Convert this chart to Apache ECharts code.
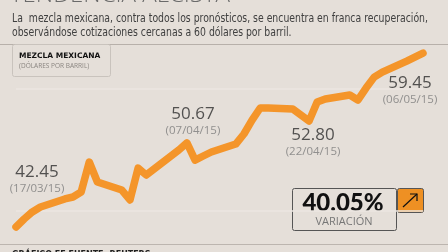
<!DOCTYPE html>
<html><head><meta charset="utf-8">
<script src="https://cdn.jsdelivr.net/npm/echarts@6/dist/echarts.min.js"></script>
<style>html,body{margin:0;padding:0;background:#e5dfd9}#c{width:448px;height:252px}</style>
</head><body><div id="c"></div>
<script>
// ---- data ----
var dates = ['2015-03-17','2015-03-18','2015-03-19','2015-03-20','2015-03-23','2015-03-24','2015-03-25','2015-03-26','2015-03-27','2015-03-30','2015-03-31','2015-04-01','2015-04-02','2015-04-06','2015-04-07','2015-04-08','2015-04-09','2015-04-10','2015-04-13','2015-04-14','2015-04-15','2015-04-16','2015-04-17','2015-04-20','2015-04-21','2015-04-22','2015-04-23','2015-04-24','2015-04-27','2015-04-28','2015-04-29','2015-04-30','2015-05-01','2015-05-04','2015-05-05','2015-05-06'];
var prices = [42.45,43.23,43.92,44.40,45.19,45.38,45.87,48.80,46.85,46.06,45.09,48.21,47.53,49.97,50.67,48.99,49.39,49.78,50.56,51.54,52.90,54.08,54.08,53.98,53.39,52.80,54.66,54.96,55.35,54.86,56.03,57.10,57.59,58.67,59.06,59.45];
var highlighted = ['2015-03-17','2015-04-07','2015-04-22','2015-05-06'];
var variation = '40.05%';
var title = 'TENDENCIA ALCISTA';
var subtitle1 = 'La  mezcla mexicana, contra todos los pronósticos, se encuentra en franca recuperación,';
var subtitle2 = 'observándose cotizaciones cercanas a 60 dólares por barril.';
var boxTitle = 'MEZCLA MEXICANA';
var boxSub = '(DÓLARES POR BARRIL)';
var source = 'GRÁFICO EE FUENTE: REUTERS';

// ---- styling / layout (not data) ----
var labelOffsets = {'2015-03-17':[21,-48],'2015-04-07':[6,-22],'2015-04-22':[4,21],'2015-05-06':[-13,37]};

function fmtDate(s){var p=s.split('-');return '('+p[2]+'/'+p[1]+'/'+p[0].slice(2)+')';}

var lineData = dates.map(function(d,i){return [d,prices[i]];});
var pointData = highlighted.map(function(d){
  var v = prices[dates.indexOf(d)];
  return {value:[d,v], label:{offset:labelOffsets[d], formatter:'{v|'+v.toFixed(2)+'}\n{d|'+fmtDate(d)+'}'}};
});

var chart = echarts.init(document.getElementById('c'), null, {renderer:'canvas'});
var font = '"Open Sans", "Noto Sans", sans-serif';
var subFont = '11.5px "Liberation Sans Narrow", "DejaVu Sans Condensed", sans-serif';
chart.setOption({
  backgroundColor:'#e5dfd9',
  animation:false,
  title:{text:title, left:10, top:-17, padding:0, textStyle:{fontFamily:'"Open Sans", sans-serif', fontWeight:300, fontSize:24, color:'#6a6a6a'}},
  grid:{left:16, right:25, top:27, height:245.5, outerBoundsMode:'none', containLabel:false},
  xAxis:{type:'time', min:dates[0], max:dates[dates.length-1], show:false},
  yAxis:{type:'value', min:38, max:62, interval:6,
    axisLine:{show:false}, axisTick:{show:false}, axisLabel:{show:false},
    splitLine:{show:true, lineStyle:{width:1.5, color:['rgba(0,0,0,0)','#ebe6e1','rgba(0,0,0,0)','#ebe6e1','rgba(0,0,0,0)']}}},
  series:[
    {type:'line', data:lineData, showSymbol:false, smooth:false,
      lineStyle:{color:'#f4952a', width:7.5, cap:'round', join:'round'}},
    {type:'scatter', data:pointData, symbol:'circle', symbolSize:5,
      itemStyle:{color:'#111'},
      label:{show:true, position:'inside', align:'center', verticalAlign:'middle',
        rich:{v:{fontSize:17, lineHeight:19, color:'#2d2d2d', fontFamily:font},
              d:{fontSize:11.5, lineHeight:13, color:'#7a7a7a', fontFamily:font}}}}
  ],
  graphic:[
    {type:'text', x:12, y:19, scaleX:0.9, style:{text:subtitle1, font:subFont, fill:'#404040', verticalAlign:'middle'}},
    {type:'text', x:12, y:33, scaleX:0.9, style:{text:subtitle2, font:subFont, fill:'#404040', verticalAlign:'middle'}},
    {type:'line', shape:{x1:0,y1:44.5,x2:448,y2:44.5}, style:{stroke:'#b7b0aa', lineWidth:1}},
    {type:'rect', shape:{x:12.5,y:44.5,width:98,height:32,r:2}, style:{fill:'none', stroke:'#c9c3bd', lineWidth:1}},
    {type:'text', x:19, y:56, style:{text:boxTitle, font:'900 7.5px "DejaVu Sans", sans-serif', fill:'#111', verticalAlign:'middle'}},
    {type:'text', x:19, y:66, style:{text:boxSub, font:'6.5px "Open Sans", sans-serif', fill:'#8a8580', verticalAlign:'middle'}},
    {type:'rect', shape:{x:292.5,y:188.5,width:104,height:42,r:2}, style:{fill:'none', stroke:'#555', lineWidth:1}},
    {type:'text', x:343, y:203, style:{text:variation, font:'900 24px "Lato", "DejaVu Sans", sans-serif', fill:'#111', align:'center', verticalAlign:'middle'}},
    {type:'text', x:344, y:222, style:{text:'VARIACIÓN', font:'11px "Open Sans", sans-serif', fill:'#777', align:'center', verticalAlign:'middle'}},
    {type:'rect', shape:{x:397.5,y:188.5,width:26,height:24,r:2}, style:{fill:'#ee9023', stroke:'#555', lineWidth:1}},
    {type:'polyline', shape:{points:[[403,207],[417,194]]}, style:{stroke:'#111', lineWidth:1.2, fill:'none'}},
    {type:'polyline', shape:{points:[[410,194],[417,194],[417,201]]}, style:{stroke:'#111', lineWidth:1.2, fill:'none'}},
    {type:'line', shape:{x1:0,y1:244.5,x2:448,y2:244.5}, style:{stroke:'#bcb5af', lineWidth:1}},
    {type:'text', x:12, y:255, style:{text:source, font:'bold 8px "DejaVu Sans", sans-serif', fill:'#222', verticalAlign:'middle'}}
  ]
});
</script></body></html>
